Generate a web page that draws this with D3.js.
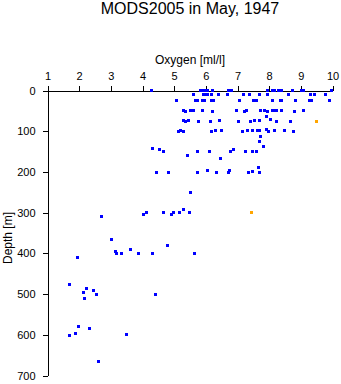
<!DOCTYPE html>
<html>
<head>
<meta charset="utf-8">
<script src="https://cdn.jsdelivr.net/npm/d3@7"></script>
<style>
  html, body { margin: 0; padding: 0; background: #fff; }
  svg { display: block; font-family: "Liberation Sans", Arial, sans-serif; }
</style>
</head>
<body>
<svg id="chart" width="341" height="384"></svg>
<script>
// Oxygen profile samples: [oxygen ml/l, depth m]
const blueSamples = [
  // surface
  [4.28, 0], [5.84, 0], [5.92, 0], [5.99, 0], [6.06, 0], [6.2, 0], [6.72, 0], [6.8, 0],
  [7.96, 0], [8.09, 0], [8.17, 0], [8.3, 0], [8.4, 0], [8.73, 0], [9.03, 0], [9.08, 0], [9.98, 0],
  // ~10 m
  [5.61, 11], [5.93, 11], [6.0, 11], [6.06, 11], [6.18, 11], [6.4, 11], [6.68, 11], [7.19, 11],
  [7.38, 11], [7.69, 11], [7.95, 11], [8.61, 11], [9.31, 11], [9.44, 11], [9.78, 11],
  // ~25 m
  [5.07, 25], [5.66, 25], [5.74, 25], [5.88, 25], [5.96, 25], [6.18, 25], [6.24, 25], [7.06, 25],
  [7.5, 25], [7.6, 25], [8.1, 25], [8.35, 25], [8.4, 25], [8.83, 25], [9.26, 25], [9.33, 25], [9.9, 25],
  // ~50 m
  [5.29, 50], [5.35, 51], [5.52, 50], [5.61, 50], [5.88, 49], [6.21, 51], [6.98, 50], [7.22, 51],
  [7.3, 50], [7.73, 50], [7.86, 50], [7.94, 51], [8.09, 50], [8.19, 48], [8.23, 50], [8.38, 50],
  [8.8, 51], [9.08, 49],
  [7.93, 63], [8.05, 71],
  // ~75 m
  [5.28, 74], [5.35, 75], [5.45, 74], [5.76, 75], [6.15, 75], [6.42, 74], [7.02, 75], [7.4, 75],
  [7.54, 74], [7.69, 74], [8.24, 75], [8.67, 75],
  // ~100 m
  [5.14, 100], [5.21, 98], [5.28, 100], [6.19, 100], [6.3, 98], [6.48, 98], [7.16, 100], [7.33, 98],
  [7.47, 98], [7.63, 98], [7.69, 98], [7.9, 96], [7.98, 100], [8.17, 98], [8.48, 98], [8.77, 100],
  [7.73, 112], [7.69, 125], [7.82, 138],
  // ~150 m
  [4.3, 143], [4.54, 145], [4.66, 150], [5.73, 150], [6.12, 150], [6.79, 149], [6.87, 145],
  [7.24, 150], [7.47, 149], [7.59, 150],
  [5.42, 160], [6.45, 166], [7.66, 189],
  // ~200 m
  [4.44, 202], [4.82, 202], [5.74, 202], [6.05, 197], [6.35, 202], [6.71, 202], [6.75, 197],
  [7.35, 202], [7.47, 199], [7.69, 202],
  [5.52, 250], [5.28, 293],
  // ~300 m
  [4.03, 305], [4.14, 300], [4.66, 300], [4.91, 305], [4.98, 300], [5.17, 300], [5.48, 300],
  [2.71, 309], [3.02, 366],
  // ~400 m
  [3.15, 396], [3.18, 401], [3.34, 401], [3.62, 391], [3.87, 401], [4.32, 401], [4.79, 381],
  [5.64, 401], [1.96, 411],
  // ~500 m
  [1.69, 476], [2.14, 496], [2.23, 486], [2.16, 511], [2.45, 491], [2.56, 501], [4.41, 501],
  // ~600 m
  [1.68, 601], [1.88, 596], [1.98, 580], [2.34, 585], [3.51, 600], [2.61, 666]
];
const orangeSamples = [[9.49, 75], [7.45, 300]];

const oxygenTicks = [1, 2, 3, 4, 5, 6, 7, 8, 9, 10];
const depthTicks = [0, 100, 200, 300, 400, 500, 600, 700];

const titleText = "MODS2005 in May, 1947";
const xLabel = "Oxygen [ml/l]";
const yLabel = "Depth [m]";

const svg = d3.select("#chart");

const x = d3.scaleLinear().domain([1, 10]).range([47.5, 332.5]);
const y = d3.scaleLinear().domain([0, 700]).range([90.5, 375.5]);

// title
svg.append("text")
  .attr("x", 190).attr("y", 14)
  .attr("text-anchor", "middle")
  .attr("font-size", 16)
  .text(titleText);

// oxygen axis along the top
const xAxis = svg.append("g")
  .attr("transform", `translate(0,${y(0)})`)
  .call(d3.axisTop(x).tickValues(oxygenTicks).tickFormat(d3.format("d"))
    .tickSize(5).tickSizeOuter(0).tickPadding(6));

// depth axis on the left
const yAxis = svg.append("g")
  .attr("transform", `translate(${x(1)},0)`)
  .call(d3.axisLeft(y).tickValues(depthTicks).tickFormat(d3.format("d"))
    .tickSize(5).tickSizeOuter(0).tickPadding(7));

[xAxis, yAxis].forEach(g => {
  g.attr("font-family", null).attr("font-size", 11);
  g.selectAll("path, line").attr("stroke", "#000").attr("shape-rendering", "crispEdges");
  g.selectAll("text").attr("fill", "#000");
});

svg.append("text")
  .attr("x", 190).attr("y", 64)
  .attr("text-anchor", "middle")
  .attr("font-size", 12)
  .text(xLabel);

svg.append("text")
  .attr("transform", `translate(12,${(y(0) + y(700)) / 2 + 5}) rotate(-90)`)
  .attr("text-anchor", "middle")
  .attr("font-size", 12)
  .text(yLabel);

// sample markers
const size = 3;
function drawPoints(data, color) {
  svg.append("g")
    .selectAll("rect")
    .data(data)
    .join("rect")
    .attr("x", d => Math.round(x(d[0]) - size / 2))
    .attr("y", d => Math.round(y(d[1]) - size / 2))
    .attr("width", size)
    .attr("height", size)
    .attr("fill", color)
    .attr("shape-rendering", "crispEdges");
}
drawPoints(blueSamples, "#0000ff");
drawPoints(orangeSamples, "#ffa500");
</script>
</body>
</html>
